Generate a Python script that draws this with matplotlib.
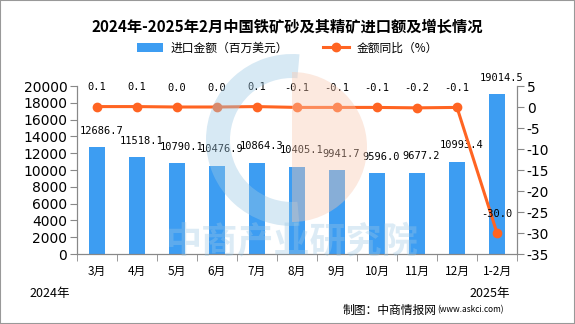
import numpy as np
import matplotlib.pyplot as plt
from matplotlib.patches import Wedge, Rectangle

plt.rcParams['font.family'] = ['Noto Sans CJK SC', 'DejaVu Sans']
plt.rcParams['axes.unicode_minus'] = False

months = ['3月', '4月', '5月', '6月', '7月', '8月', '9月', '10月', '11月', '12月', '1-2月']
amount = [12686.7, 11518.1, 10790.1, 10476.9, 10864.3, 10405.1, 9941.7, 9596.0, 9677.2, 10993.4, 19014.5]
yoy = [0.1, 0.1, 0.0, 0.0, 0.1, -0.1, -0.1, -0.1, -0.2, -0.1, -30.0]

bar_color = '#3d9df2'
line_color = '#ff6422'
axis_color = '#888888'

fig = plt.figure(figsize=(5.75, 3.24), dpi=100)
ax = fig.add_axes([77 / 575, 1 - 254 / 324, 440 / 575, 168 / 324])
x = np.arange(len(months))

bars = ax.bar(x, amount, width=0.4, color=bar_color, label='进口金额（百万美元）', zorder=2)
ax.set_xlim(-0.5, len(months) - 0.5)
ax.set_ylim(0, 20000)
ax.set_yticks(np.arange(0, 20001, 2000))
ax.set_xticks(x)
ax.set_xticklabels(months, fontsize=8.5)
ax.set_xticks(np.arange(-0.5, len(months), 1), minor=True)
ax.tick_params(axis='x', which='major', length=0, pad=8)
ax.tick_params(axis='x', which='minor', length=5, color=axis_color)
ax.tick_params(axis='y', length=5, color=axis_color, labelsize=10, pad=2)
for lab in ax.get_yticklabels():
    lab.set_family('DejaVu Sans')
ax.spines['top'].set_visible(False)
for s in ['left', 'right', 'bottom']:
    ax.spines[s].set_color(axis_color)

for xi, v in zip(x, amount):
    ax.annotate(f'{v:.1f}', (xi, v), xytext=(3, 12), textcoords='offset points',
                ha='center', va='center', fontsize=7.5, family='DejaVu Sans Mono')

ax2 = ax.twinx()
ax2.plot(x, yoy, color=line_color, lw=2.2, marker='o', ms=6, label='金额同比（%）', zorder=3)
ax2.set_ylim(-35, 5)
ax2.set_yticks(np.arange(-35, 6, 5))
ax2.tick_params(axis='y', length=5, color=axis_color, labelsize=10, pad=2)
for lab in ax2.get_yticklabels():
    lab.set_family('DejaVu Sans')
ax2.spines['top'].set_visible(False)
for s in ['left', 'right', 'bottom']:
    ax2.spines[s].set_color(axis_color)

for xi, v in zip(x, yoy):
    ax2.annotate(f'{v:.1f}', (xi, v), xytext=(0, 14), textcoords='offset points',
                 ha='center', va='center', fontsize=7.5, family='DejaVu Sans Mono')

fig.text(0.5, 1 - 26 / 324, '2024年-2025年2月中国铁矿砂及其精矿进口额及增长情况',
         ha='center', va='center', fontsize=11, fontweight='bold')

h1, l1 = ax.get_legend_handles_labels()
h2, l2 = ax2.get_legend_handles_labels()
fig.legend(h1 + h2, l1 + l2, loc='center', bbox_to_anchor=(0.5, 1 - 48 / 324), ncol=2,
           frameon=False, fontsize=8.5, handlelength=2.2, handleheight=0.7,
           columnspacing=3, handletextpad=0.6)

fig.text(50 / 575, 1 - 293 / 324, '2024年', ha='center', va='center', fontsize=9)
fig.text(490 / 575, 1 - 293 / 324, '2025年', ha='center', va='center', fontsize=9)
fig.text(437 / 575, 1 - 310 / 324, '制图：中商情报网', ha='right', va='center', fontsize=8.5)
fig.text(437 / 575, 1 - 310 / 324, '(www.askci.com)', ha='left', va='center', fontsize=6)

# 水印
wm = fig.add_axes([0, 0, 1, 1], zorder=5)
wm.set_xlim(0, 575)
wm.set_ylim(324, 0)
wm.axis('off')
wm.add_patch(Wedge((292, 140), 86, 85, 275, width=24, color='#9cc8e4', alpha=0.4, lw=0))
wm.add_patch(Wedge((292, 147), 75, -90, 90, color='#f8c8b0', alpha=0.4, lw=0))
wm.text(292, 243, '中商产业研究院', ha='center', va='center', fontsize=26,
        fontweight='bold', color='#9cc8e4', alpha=0.35)

fig.add_artist(Rectangle((0, 0), 1, 1, transform=fig.transFigure, fill=False,
                         edgecolor='#999999', lw=1.5))

fig.savefig('out.png', dpi=100)
